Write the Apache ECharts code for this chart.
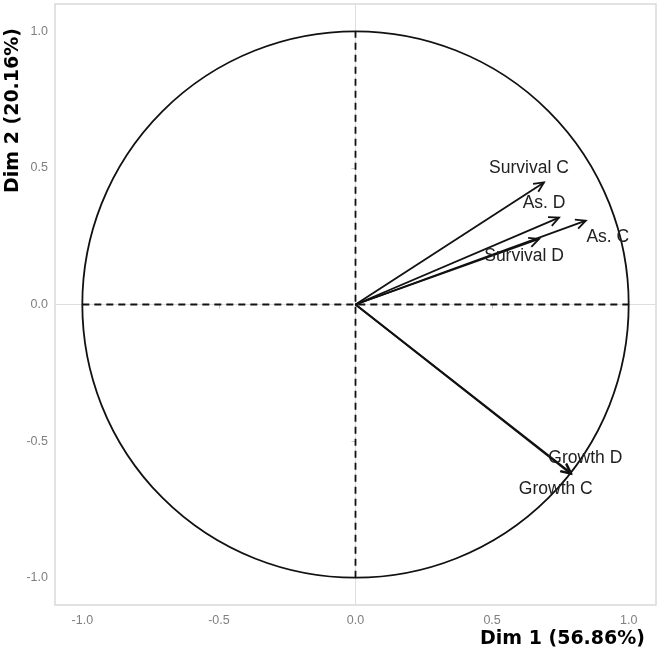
<!DOCTYPE html>
<html>
<head>
<meta charset="utf-8">
<script src="https://cdn.jsdelivr.net/npm/echarts@6/dist/echarts.min.js"></script>
<style>html,body{margin:0;padding:0;background:#fff}#c{width:661px;height:652px}</style>
</head>
<body>
<div id="c"></div>
<script>
const variables = ['Survival C', 'As. D', 'As. C', 'Survival D', 'Growth D', 'Growth C'];
const dim1 = [0.690, 0.745, 0.843, 0.672, 0.790, 0.788];
const dim2 = [0.447, 0.318, 0.307, 0.240, -0.618, -0.620];
const tickValues = [-1.0, -0.5, 0.0, 0.5, 1.0];
const xName = 'Dim 1 (56.86%)';
const yName = 'Dim 2 (20.16%)';

// pixel offsets of each label centre relative to its arrow tip (layout only)
const labelOffsets = [[-15, -14], [-15, -14], [22, 17], [-15, 17], [14, -15], [-15, 15]];

const chart = echarts.init(document.getElementById('c'));
const tickColor = '#7f7f7f';
const axisCommon = {
  type: 'value', min: -1.1, max: 1.1,
  splitLine: { show: false },
  axisLine: { show: false },
  axisTick: { show: true, customValues: tickValues, length: 4, lineStyle: { color: '#c8c8c8', width: 1 } },
  axisLabel: { customValues: tickValues, color: tickColor, fontSize: 12.5, fontFamily: 'Liberation Sans',
    formatter: v => v.toFixed(1) }
};
const arrowData = variables.map((n, i) => [dim1[i], dim2[i], i]);
const lineStyleBlack = { stroke: '#111', lineWidth: 1.8 };

chart.setOption({
  animation: false,
  grid: { left: 55, right: 5, top: 4, bottom: 47, show: true, borderColor: '#d9d9d9', borderWidth: 1.5, backgroundColor: '#fff' },
  xAxis: Object.assign({}, axisCommon, { axisLabel: Object.assign({}, axisCommon.axisLabel, { margin: 9 }) }),
  yAxis: Object.assign({}, axisCommon, { axisLabel: Object.assign({}, axisCommon.axisLabel, { margin: 7 }) }),
  graphic: [
    { type: 'text', right: 16, bottom: 3, style: { text: xName, font: 'bold 19px "DejaVu Sans"', fill: '#000' } },
    { type: 'text', left: 4, top: 28, rotation: Math.PI / 2, style: { text: yName, font: 'bold 19px "DejaVu Sans"', fill: '#000' } }
  ],
  series: [
    {
      type: 'custom', silent: true, z: 1, data: [[-1.1, 0, 1.1, 0], [0, -1.1, 0, 1.1]],
      renderItem: (params, api) => {
        const a = api.coord([api.value(0), api.value(1)]);
        const b = api.coord([api.value(2), api.value(3)]);
        return { type: 'line', shape: { x1: a[0], y1: a[1], x2: b[0], y2: b[1] }, style: { stroke: '#dedede', lineWidth: 1 } };
      }
    },
    {
      type: 'line', z: 3, data: [[-1, 0], [1, 0]], symbol: 'none', silent: true,
      lineStyle: { color: '#111', width: 1.8, type: [7, 5] }
    },
    {
      type: 'line', z: 3, data: [[0, -1], [0, 1]], symbol: 'none', silent: true,
      lineStyle: { color: '#111', width: 1.8, type: [7, 5] }
    },
    {
      type: 'custom', silent: true, z: 4, data: [[0, 0, 1]],
      renderItem: (params, api) => {
        const c = api.coord([api.value(0), api.value(1)]);
        const r = api.size([api.value(2), api.value(2)]);
        return { type: 'circle', shape: { cx: c[0], cy: c[1], r: (r[0] + r[1]) / 2 },
          style: { fill: 'none', stroke: '#111', lineWidth: 1.8 } };
      }
    },
    {
      type: 'custom', silent: true, z: 5, data: arrowData,
      renderItem: (params, api) => {
        const o = api.coord([0, 0]);
        const t = api.coord([api.value(0), api.value(1)]);
        const idx = api.value(2);
        const ang = Math.atan2(t[1] - o[1], t[0] - o[0]);
        const L = 11, a = Math.PI / 7;
        const p1 = [t[0] - L * Math.cos(ang - a), t[1] - L * Math.sin(ang - a)];
        const p2 = [t[0] - L * Math.cos(ang + a), t[1] - L * Math.sin(ang + a)];
        const off = labelOffsets[idx];
        return { type: 'group', children: [
          { type: 'line', shape: { x1: o[0], y1: o[1], x2: t[0], y2: t[1] }, style: lineStyleBlack },
          { type: 'polyline', shape: { points: [p1, t, p2] }, style: Object.assign({ fill: 'none' }, lineStyleBlack) },
          { type: 'text', x: t[0] + off[0], y: t[1] + off[1],
            style: { text: variables[idx], fill: '#222', font: '17.5px "Liberation Sans"', align: 'center', verticalAlign: 'middle' } }
        ] };
      }
    }
  ]
});
</script>
</body>
</html>
